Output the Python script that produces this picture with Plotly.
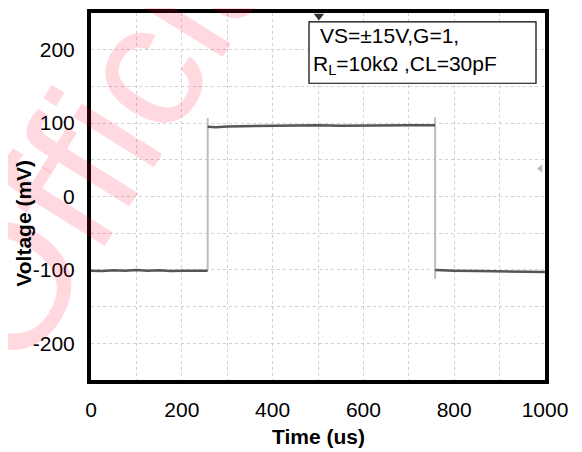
import plotly.graph_objects as go

# ---- data ----
time_low1 = [0, 25, 50, 75, 100, 125, 150, 175, 200, 225, 250, 257]
volt_low1 = [-101, -101.5, -100.5, -101, -100, -101, -100.5, -101.5, -101, -100.5, -101, -101]
time_high = [257, 275, 300, 350, 400, 450, 500, 550, 600, 650, 700, 750, 758]
volt_high = [95, 94.5, 95.5, 96, 96, 96.5, 97, 96.5, 97, 97, 97, 97, 97]
time_low2 = [758, 775, 800, 850, 900, 950, 1000]
volt_low2 = [-100, -100.5, -101, -101.5, -102, -102.5, -103]
edge_rise_t = [257, 257]
edge_rise_v = [-101, 107]
edge_fall_t = [758, 758]
edge_fall_v = [108, -112]
x_ticks = [0, 200, 400, 600, 800, 1000]
x_tick_text = ["0", "200", "400", "600", "800", "1000"]
y_ticks = [-200, -100, 0, 100, 200]
y_tick_text = ["-200", "-100", "0", "100", "200"]
trigger_t, trigger_v = [502], [246]
level_t, level_v = [990], [38]

# page has an 8px body margin; figure sits at (8, 8) in the 582x452 window
OFF = 8
W, H = 582 - OFF, 452 - OFF
L, R, T, B = 91, 545, 9, 380          # plot-area edges in page pixels
def px(x):
    return (x - L) / (R - L)
def py(y):
    return (B - y) / (B - T)

fig = go.Figure()
edge_col = "#bdbdbd"
trace_col = "#555555"
fig.add_trace(go.Scatter(x=edge_rise_t, y=edge_rise_v, mode="lines",
                         line=dict(color=edge_col, width=2), showlegend=False))
fig.add_trace(go.Scatter(x=edge_fall_t, y=edge_fall_v, mode="lines",
                         line=dict(color=edge_col, width=2), showlegend=False))
for t, v in [(time_low1, volt_low1), (time_high, volt_high), (time_low2, volt_low2)]:
    fig.add_trace(go.Scatter(x=t, y=v, mode="lines",
                             line=dict(color=trace_col, width=2.5), showlegend=False))
fig.add_trace(go.Scatter(x=trigger_t, y=trigger_v, mode="markers",
                         marker=dict(symbol="triangle-down", size=9, color="#333333"),
                         cliponaxis=False, showlegend=False))
fig.add_trace(go.Scatter(x=level_t, y=level_v, mode="markers",
                         marker=dict(symbol="triangle-left", size=7, color="#bbbbbb"),
                         cliponaxis=False, showlegend=False))

font = "Arial, Liberation Sans, sans-serif"
grid = dict(showgrid=True, gridcolor="#d0d0d0", gridwidth=1, griddash="dot")
fig.update_xaxes(range=[0, 1000], tickvals=x_ticks, ticktext=x_tick_text, ticks="",
                 zeroline=False, showline=True, linecolor="black", linewidth=4, mirror=True,
                 tickfont=dict(family=font, size=21, color="black"),
                 ticklabelstandoff=8,
                 minor=dict(dtick=100, **grid), **grid)
fig.update_yaxes(range=[-250, 250], tickvals=y_ticks, ticktext=y_tick_text, ticks="",
                 zeroline=False, showline=True, linecolor="black", linewidth=4, mirror=True,
                 tickfont=dict(family=font, size=21, color="black"),
                 ticklabelstandoff=8,
                 minor=dict(dtick=50, **grid), **grid)

def ann(xp, yp, text, size, angle=0, xanchor="center", color="black"):
    return dict(x=px(xp), y=py(yp), xref="paper", yref="paper", text=text,
                showarrow=False, textangle=angle, xanchor=xanchor, yanchor="middle",
                font=dict(family=font, size=size, color=color))

annotations = [
    ann(114, 111, "Official", 180, angle=-58, color="rgba(255,0,40,0.15)"),
    ann(318, 437, "<b>Time (us)</b>", 21),
    ann(24, 222, "<b>Voltage (mV)</b>", 21, angle=-90),
    ann(318, 32, "VS=±15V,G=1,", 21, xanchor="left"),
    ann(311, 62, "R<sub>L</sub>=10kΩ ,CL=30pF", 21, xanchor="left"),
]

shapes = [dict(type="rect", xref="paper", yref="paper",
               x0=px(309), x1=px(536), y0=py(80), y1=py(18),
               line=dict(color="black", width=1.2), fillcolor="white", layer="above")]

fig.update_layout(width=W, height=H,
                  margin=dict(l=L - OFF, r=582 - R, t=T - OFF, b=452 - B),
                  plot_bgcolor="white", paper_bgcolor="white",
                  annotations=annotations, shapes=shapes, showlegend=False)
fig.write_html("out.html")
